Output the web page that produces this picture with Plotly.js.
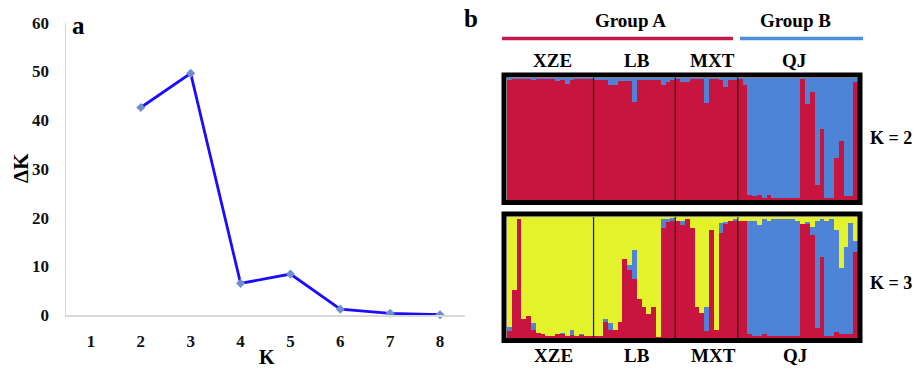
<!DOCTYPE html>
<html><head><meta charset="utf-8">
<script src="https://cdn.plot.ly/plotly-3.0.1.min.js"></script>
<style>html,body{margin:0;padding:0;background:#fff}#chart{width:923px;height:369px}</style>
</head><body><div id="chart"></div>
<script>
const W = 923, H = 369;

// ---- panel a data ----
const kValues = [1, 2, 3, 4, 5, 6, 7, 8];
const deltaK = [null, 42.6, 49.6, 6.5, 8.4, 1.2, 0.35, 0.05];
const yTicks = [0, 10, 20, 30, 40, 50, 60];

// ---- panel b data ----
const populations = ['XZE', 'LB', 'MXT', 'QJ'];
const popSizes = [18, 17, 13, 25];
const groupLabels = ['Group A', 'Group B'];
const kLabels = ['K = 2', 'K = 3'];

// K = 2 membership (cluster 1 red, cluster 2 blue)
const k2Red = [
  0.98,0.99,0.99,0.99,0.985,0.98,0.99,0.99,0.99,0.99,0.97,0.98,0.945,0.98,0.99,0.99,0.99,0.99,
  0.98,0.98,0.98,0.94,0.94,0.97,0.97,0.97,0.80,0.98,0.98,0.98,0.98,0.98,0.94,0.96,0.98,
  0.99,0.965,0.965,0.99,0.99,0.99,0.79,0.99,0.99,0.98,0.92,0.98,0.98,
  0.99,0.94,0.04,0.03,0.04,0.015,0.04,0.015,0.015,0.02,0.02,0.02,0.02,0.99,0.78,0.88,0.12,0.58,0.02,0.02,0.34,0.48,0.03,0.03,0.96
];
const k2Blue = [
  0.02,0.01,0.01,0.01,0.015,0.02,0.01,0.01,0.01,0.01,0.03,0.02,0.055,0.02,0.01,0.01,0.01,0.01,
  0.02,0.02,0.02,0.06,0.06,0.03,0.03,0.03,0.20,0.02,0.02,0.02,0.02,0.02,0.06,0.04,0.02,
  0.01,0.035,0.035,0.01,0.01,0.01,0.21,0.01,0.01,0.02,0.08,0.02,0.02,
  0.01,0.06,0.96,0.97,0.96,0.985,0.96,0.985,0.985,0.98,0.98,0.98,0.98,0.01,0.22,0.12,0.88,0.42,0.98,0.98,0.66,0.52,0.97,0.97,0.04
];

// K = 3 membership (red, blue, yellow)
const k3Red = [
  0.06,0.40,0.98,0.16,0.18,0.07,0.045,0.035,0.02,0.02,0.03,0.03,0.02,0.025,0.02,0.025,0.015,0.015,
  0.02,0.02,0.13,0.07,0.07,0.13,0.65,0.56,0.49,0.32,0.26,0.20,0.26,0.01,0.91,0.96,0.97,
  0.97,0.93,0.98,0.91,0.26,0.21,0.06,0.89,0.07,0.87,0.94,0.97,0.97,
  0.97,0.97,0.03,0.02,0.02,0.03,0.02,0.02,0.015,0.02,0.02,0.02,0.02,0.94,0.94,0.85,0.08,0.67,0.02,0.02,0.05,0.03,0.03,0.03,0.71
];
const k3Blue = [
  0.03,0,0,0,0,0.05,0,0,0,0,0,0.01,0,0.04,0,0.01,0,0,
  0,0,0.03,0.05,0,0,0,0.04,0.24,0,0,0,0,0,0.07,0.02,0.02,
  0,0.04,0,0,0,0,0.20,0,0,0.08,0.02,0,0.01,
  0,0,0.94,0.95,0.91,0.95,0.95,0.96,0.965,0.965,0.965,0.96,0.95,0,0.02,0.07,0.89,0.31,0.95,0.96,0.84,0.55,0.72,0.92,0.09
];
const k3Yellow = [
  0.91,0.60,0.02,0.84,0.82,0.88,0.955,0.965,0.98,0.98,0.97,0.96,0.98,0.935,0.98,0.965,0.985,0.985,
  0.98,0.98,0.84,0.88,0.93,0.87,0.35,0.40,0.27,0.68,0.74,0.80,0.74,0.99,0.02,0.02,0.01,
  0.03,0.03,0.02,0.09,0.74,0.79,0.74,0.11,0.93,0.05,0.04,0.03,0.02,
  0.03,0.03,0.03,0.03,0.07,0.02,0.03,0.02,0.02,0.015,0.015,0.02,0.03,0.06,0.04,0.08,0.03,0.02,0.03,0.02,0.11,0.42,0.25,0.05,0.20
];

const RED = '#c8143f', BLUE = '#4f83d8', YELLOW = '#e4f22b';
const FONT = 'Liberation Serif, Times New Roman, serif';

const nInd = popSizes.reduce((a, b) => a + b, 0);
const idx = Array.from({length: nInd}, (_, i) => i);

const px = v => v / W;
const py = v => 1 - v / H;

function barTrace(vals, color, xa, ya) {
  return {type: 'bar', x: idx, y: vals, width: 1, xaxis: xa, yaxis: ya,
    marker: {color: color, line: {width: 0}}, hoverinfo: 'skip'};
}

const traces = [
  {type: 'scatter', mode: 'lines+markers', x: kValues, y: deltaK, xaxis: 'x', yaxis: 'y',
   line: {color: '#1a0cff', width: 2.8}, marker: {symbol: 'diamond', size: 7, color: '#6f8fd2'},
   connectgaps: false, cliponaxis: false},
  barTrace(k2Red, RED, 'x2', 'y2'),
  barTrace(k2Blue, BLUE, 'x2', 'y2'),
  barTrace(k3Red, RED, 'x3', 'y3'),
  barTrace(k3Blue, BLUE, 'x3', 'y3'),
  barTrace(k3Yellow, YELLOW, 'x3', 'y3')
];

const tickFont = {family: FONT, size: 17, color: '#111', weight: 'bold'};
const hidden = {showline: false, showgrid: false, zeroline: false, showticklabels: false, ticks: '', fixedrange: true};
const barX = [px(507), px(858)];

const shapes = [];
// separators between populations
let cum = 0;
for (let p = 0; p < popSizes.length - 1; p++) {
  cum += popSizes[p];
  for (const [xr, yr] of [['x2', 'y2 domain'], ['x3', 'y3 domain']]) {
    shapes.push({type: 'line', xref: xr, yref: yr, x0: cum - 0.5, x1: cum - 0.5, y0: 0, y1: 1,
      line: {color: '#1a1a1a', width: 1.2}, layer: 'above'});
  }
}
// frames
shapes.push({type: 'rect', xref: 'paper', yref: 'paper', x0: px(504), x1: px(860), y0: py(202.5), y1: py(75),
  line: {color: '#000', width: 5}, layer: 'above'});
shapes.push({type: 'rect', xref: 'paper', yref: 'paper', x0: px(504), x1: px(860), y0: py(340.5), y1: py(214),
  line: {color: '#000', width: 5}, layer: 'above'});
// group lines
shapes.push({type: 'line', xref: 'paper', yref: 'paper', x0: px(502), x1: px(733), y0: py(38.5), y1: py(38.5),
  line: {color: '#c21a4c', width: 3.5}});
shapes.push({type: 'line', xref: 'paper', yref: 'paper', x0: px(740), x1: px(863), y0: py(38.5), y1: py(38.5),
  line: {color: '#4a8ddb', width: 3.5}});

function ann(text, x, y, size, extra) {
  return Object.assign({text: text, xref: 'paper', yref: 'paper', x: px(x), y: py(y),
    xanchor: 'center', yanchor: 'middle', showarrow: false,
    font: {family: FONT, size: size, color: '#000', weight: 'bold'}}, extra || {});
}

const popTopX = [552, 637, 712, 794];
const popBotX = [553, 637, 713, 795];
const annotations = [
  ann('a', 78, 25, 25),
  ann('b', 471, 19, 25),
  ann('K', 267, 357, 20),
  ann('ΔK', 21, 168, 21, {textangle: -90}),
  ann(groupLabels[0], 630, 21, 19),
  ann(groupLabels[1], 795, 21, 19),
  ann(kLabels[0], 891, 138, 18),
  ann(kLabels[1], 891, 283, 18)
];
populations.forEach((p, i) => {
  annotations.push(ann(p, popTopX[i], 60, 19));
  annotations.push(ann(p, popBotX[i], 355, 19));
});

const layout = {
  width: W, height: H, margin: {l: 0, r: 0, t: 0, b: 0},
  paper_bgcolor: '#fff', plot_bgcolor: 'rgba(0,0,0,0)',
  showlegend: false, barmode: 'stack', bargap: 0,
  xaxis: {domain: [px(66), px(465)], range: [0.5, 8.5], tickvals: kValues, ticktext: kValues.map(String),
    showline: true, linecolor: '#d9d9d9', linewidth: 1.5, showgrid: false, zeroline: false, ticks: '',
    tickfont: tickFont, ticklabelstandoff: 10, fixedrange: true},
  yaxis: {domain: [py(315), py(22.7)], range: [0, 60], tickvals: yTicks, ticktext: yTicks.map(String),
    showline: true, linecolor: '#d9d9d9', linewidth: 1.5, showgrid: false, zeroline: false, ticks: '',
    tickfont: tickFont, ticklabelstandoff: 12, fixedrange: true},
  xaxis2: Object.assign({domain: barX, range: [-0.5, nInd - 0.5], anchor: 'y2'}, hidden),
  yaxis2: Object.assign({domain: [py(200), py(77.5)], range: [0, 1], anchor: 'x2'}, hidden),
  xaxis3: Object.assign({domain: barX, range: [-0.5, nInd - 0.5], anchor: 'y3'}, hidden),
  yaxis3: Object.assign({domain: [py(338), py(217)], range: [0, 1], anchor: 'x3'}, hidden),
  shapes: shapes,
  annotations: annotations
};

Plotly.newPlot('chart', traces, layout, {staticPlot: true, displayModeBar: false});
</script>
</body></html>
